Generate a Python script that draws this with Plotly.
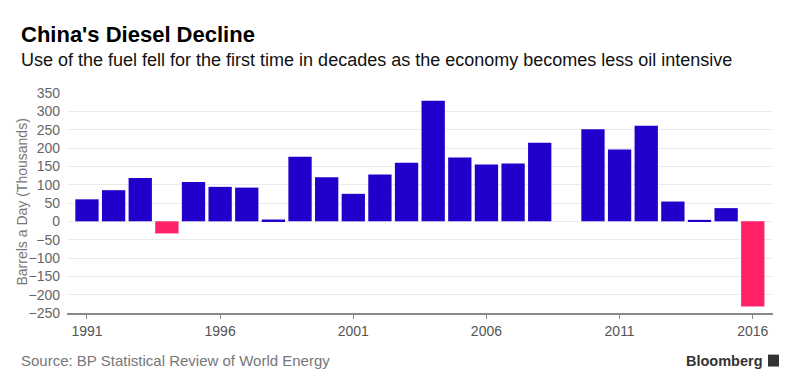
import plotly.graph_objects as go

years = list(range(1991, 2017))
values = [60, 85, 118, -33, 107, 94, 92, 5, 176, 120, 75, 128, 160,
          329, 174, 155, 158, 214, None, 251, 196, 261, 54, 4, 36, -232]
y_ticks = list(range(-250, 351, 50))
x_ticks = [1991, 1996, 2001, 2006, 2011, 2016]

BLUE = "#2200CC"
PINK = "#FF2266"
colors = [PINK if (v is not None and v < 0) else BLUE for v in values]

FONT = "Liberation Sans, Arial, Helvetica, sans-serif"

OFF = 8  # page body margin
# plot area in screenshot pixels
SL, SR, ST, SB = 67, 773, 92.7, 313.3
L, R, T, B = SL - OFF, SR - OFF, ST - OFF, SB - OFF
W, H = R - L, B - T

def px(x):
    return (x - OFF - L) / W

def py(y):
    return (B - (y - OFF)) / H

fig = go.Figure(go.Bar(x=years, y=values, marker=dict(color=colors, line=dict(width=0))))

fig.update_layout(
    width=800, height=390,
    margin=dict(l=L, r=800 - R, t=T, b=390 - B),
    paper_bgcolor="white", plot_bgcolor="white",
    bargap=0.125,
    showlegend=False,
    font=dict(family=FONT, color="#666666", size=14),
    xaxis=dict(
        range=[1990.25, 2016.76], tickvals=x_ticks, ticktext=[str(t) for t in x_ticks],
        showgrid=False, zeroline=False, showline=True, linecolor="#888888", linewidth=1.5,
        ticks="outside", ticklen=4, tickcolor="#888888", tickfont=dict(size=14, color="#555555"),
    ),
    yaxis=dict(
        range=[-250, 350], tickvals=y_ticks, showgrid=True, gridcolor="#ebebeb", gridwidth=1,
        zeroline=False, showline=False, ticks="", ticklabelstandoff=6,
        tickfont=dict(size=14, color="#666666"),
    ),
)

annotations = [
    dict(text="<b>China's Diesel Decline</b>", x=px(19), y=py(34), xanchor="left", yanchor="middle",
         font=dict(size=22, color="#000000", family=FONT)),
    dict(text="Use of the fuel fell for the first time in decades as the economy becomes less oil intensive",
         x=px(19), y=py(60), xanchor="left", yanchor="middle",
         font=dict(size=18, color="#111111", family=FONT)),
    dict(text="Barrels a Day (Thousands)", x=px(22), y=py(202.5), xanchor="center", yanchor="middle",
         textangle=-90, font=dict(size=14, color="#777777", family=FONT)),
    dict(text="Source: BP Statistical Review of World Energy", x=px(18.5), y=py(361),
         xanchor="left", yanchor="middle", font=dict(size=15, color="#777777", family=FONT)),
    dict(text="<b>Bloomberg</b>", x=px(765), y=py(361), xanchor="right", yanchor="middle",
         font=dict(size=14.5, color="#333333", family=FONT)),
]
for a in annotations:
    a.update(xref="paper", yref="paper", showarrow=False)
fig.update_layout(annotations=annotations)

# small logo mark
fig.add_shape(type="rect", xref="paper", yref="paper",
              x0=px(768), x1=px(779), y0=py(367), y1=py(355),
              fillcolor="#333333", line=dict(width=0))

fig.write_html("out.html")
